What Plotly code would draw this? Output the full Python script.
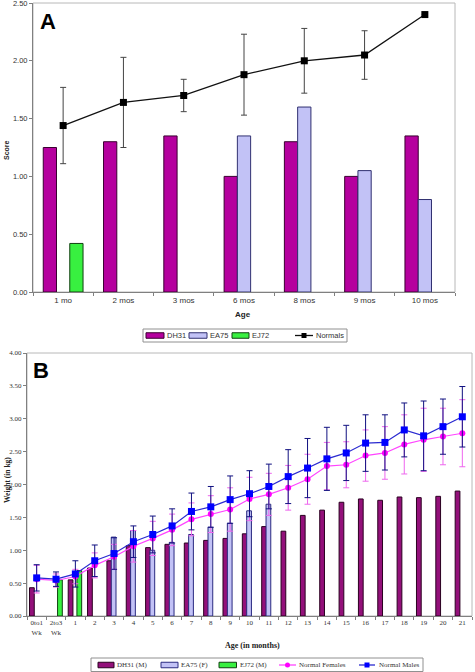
import plotly.graph_objects as go

# ---------------- Panel A data ----------------
cats_a = ["1 mo", "2 mos", "3 mos", "6 mos", "8 mos", "9 mos", "10 mos"]
dh31_a = [1.25, 1.30, 1.35, 1.00, 1.30, 1.00, 1.35]
ea75_a = [None, None, None, 1.35, 1.60, 1.05, 0.80]
ej72_a = [0.42, None, None, None, None, None, None]
normals_a = [1.44, 1.64, 1.70, 1.88, 2.00, 2.05, 2.40]
normals_a_err = [0.33, 0.39, 0.14, 0.35, 0.28, 0.21, 0.0]
ticks_a = [0, 0.5, 1.0, 1.5, 2.0, 2.5]

# ---------------- Panel B data ----------------
cats_b = ["0to1<br>Wk", "2to3<br>Wk"] + [str(i) for i in range(1, 22)]
dh31_b = [0.43, None, 0.55, 0.73, 0.84, 1.07, 1.04, 1.09, 1.11, 1.15, 1.18, 1.25,
          1.36, 1.29, 1.53, 1.61, 1.73, 1.78, 1.76, 1.81, 1.80, 1.82, 1.90]
ea75_b = [None, None, None, None, 1.20, 1.30, 1.00, 1.12, 1.24, 1.35, 1.41, 1.60,
          1.70, None, None, None, None, None, None, None, None, None, None]
ej72_b = [None, 0.55, 0.69] + [None] * 20
males_b = [0.58, 0.56, 0.64, 0.84, 0.95, 1.13, 1.24, 1.37, 1.59, 1.66, 1.77, 1.86,
           1.97, 2.12, 2.25, 2.39, 2.48, 2.63, 2.64, 2.83, 2.74, 2.88, 3.03]
males_b_err = [0.20, 0.11, 0.20, 0.24, 0.24, 0.24, 0.28, 0.26, 0.28, 0.31, 0.36, 0.35,
               0.34, 0.41, 0.45, 0.48, 0.42, 0.43, 0.42, 0.41, 0.53, 0.42, 0.46]
females_b = [0.56, 0.54, 0.60, 0.77, 0.90, 1.06, 1.18, 1.31, 1.47, 1.55, 1.62, 1.78,
             1.85, 1.95, 2.08, 2.28, 2.30, 2.44, 2.48, 2.61, 2.68, 2.73, 2.78]
females_b_err = [0.21, 0.10, 0.11, 0.19, 0.19, 0.24, 0.26, 0.24, 0.25, 0.28, 0.33, 0.33,
                 0.32, 0.34, 0.38, 0.36, 0.35, 0.39, 0.40, 0.45, 0.48, 0.43, 0.51]
ticks_b = [0, 0.5, 1.0, 1.5, 2.0, 2.5, 3.0, 3.5, 4.0]

W, H = 475, 672
SANS = "Liberation Sans, Arial, sans-serif"
SERIF = "Liberation Serif, Times New Roman, serif"

# colours
C_DH31_A, C_DH31_B = "#b5009e", "#93107a"
C_EA75 = "#c2c2f6"
C_EJ72 = "#38f040"

fig = go.Figure()

# ---- Panel A traces ----
wa = 0.22
fig.add_trace(go.Bar(x=cats_a, y=dh31_a, name="DH31", width=wa, offset=-0.33,
                     marker=dict(color=C_DH31_A, line=dict(color="#3a0030", width=1)),
                     xaxis="x", yaxis="y"))
fig.add_trace(go.Bar(x=cats_a, y=ea75_a, name="EA75", width=wa, offset=-0.11,
                     marker=dict(color=C_EA75, line=dict(color="#303070", width=1)),
                     xaxis="x", yaxis="y"))
fig.add_trace(go.Bar(x=cats_a, y=ej72_a, name="EJ72", width=wa, offset=0.11,
                     marker=dict(color=C_EJ72, line=dict(color="#104010", width=1)),
                     xaxis="x", yaxis="y"))
fig.add_trace(go.Scatter(x=cats_a, y=normals_a, name="Normals", mode="lines+markers",
                         line=dict(color="#111111", width=1.3),
                         marker=dict(symbol="square", size=7, color="#000000"),
                         error_y=dict(type="data", array=normals_a_err, color="#444444",
                                      thickness=1, width=3),
                         xaxis="x", yaxis="y"))

# ---- Panel B traces ----
wb = 0.245
fig.add_trace(go.Bar(x=cats_b, y=dh31_b, name="DH31 (M)", width=wb, offset=-0.37,
                     marker=dict(color=C_DH31_B, line=dict(color="#2a0020", width=1)),
                     xaxis="x2", yaxis="y2"))
fig.add_trace(go.Bar(x=cats_b, y=ea75_b, name="EA75 (F)", width=wb, offset=-0.145,
                     marker=dict(color=C_EA75, line=dict(color="#2a2a80", width=1)),
                     xaxis="x2", yaxis="y2"))
fig.add_trace(go.Bar(x=cats_b, y=ej72_b, name="EJ72 (M)", width=wb, offset=0.08,
                     marker=dict(color=C_EJ72, line=dict(color="#104010", width=1)),
                     xaxis="x2", yaxis="y2"))
fig.add_trace(go.Scatter(x=cats_b, y=females_b, name="Normal Females", mode="lines+markers",
                         line=dict(color="#ff44ff", width=1.2),
                         marker=dict(symbol="circle", size=6, color="#ff00ff"),
                         error_y=dict(type="data", array=females_b_err, color="#ee66ee",
                                      thickness=1, width=3),
                         xaxis="x2", yaxis="y2"))
fig.add_trace(go.Scatter(x=cats_b, y=males_b, name="Normal Males", mode="lines+markers",
                         line=dict(color="#2a2ad0", width=1.2),
                         marker=dict(symbol="square", size=7, color="#0000ff"),
                         error_y=dict(type="data", array=males_b_err, color="#101080",
                                      thickness=1, width=3),
                         xaxis="x2", yaxis="y2"))

# domains (pixel-derived)
ax_l, ax_r, ay_t, ay_b = 33, 455, 3, 292
bx_l, bx_r, by_t, by_b = 27, 472, 353, 616

common_axis = dict(showline=True, linecolor="#808080", linewidth=1, showgrid=False,
                   ticks="outside", ticklen=3, tickcolor="#808080", automargin=False,
                   ticklabeloverflow="allow")

fig.update_layout(
    width=W, height=H,
    margin=dict(l=0, r=0, t=0, b=0, autoexpand=False),
    paper_bgcolor="white", plot_bgcolor="white",
    barmode="overlay", showlegend=False,
    xaxis=dict(domain=[ax_l / W, ax_r / W], anchor="y", type="category",
               categoryorder="array", categoryarray=cats_a, tickangle=0,
               range=[-0.5, 6.5], tickson="boundaries",
               tickfont=dict(family=SANS, size=8, color="#333333"), **common_axis),
    yaxis=dict(domain=[1 - ay_b / H, 1 - ay_t / H], anchor="x", range=[0, 2.5],
               tickvals=ticks_a, tickformat=".2f", zeroline=False,
               tickfont=dict(family=SANS, size=7.5, color="#333333"), **common_axis),
    xaxis2=dict(domain=[bx_l / W, bx_r / W], anchor="y2", type="category",
                categoryorder="array", categoryarray=cats_b, tickangle=0,
                range=[-0.5, 22.5], tickson="boundaries",
                tickfont=dict(family=SERIF, size=7, color="#333333"), **common_axis),
    yaxis2=dict(domain=[1 - by_b / H, 1 - by_t / H], anchor="x2", range=[0, 4.0],
                tickvals=ticks_b, tickformat=".2f", zeroline=False,
                tickfont=dict(family=SERIF, size=7, color="#333333"), **common_axis),
)

def px(x):
    return x / W

def py(y):
    return 1 - y / H

# plot-area borders
for (l, r, t, b) in [(ax_l, ax_r, ay_t, ay_b), (bx_l, bx_r, by_t, by_b)]:
    fig.add_shape(type="rect", xref="paper", yref="paper",
                  x0=px(l), x1=px(r), y0=py(b), y1=py(t),
                  line=dict(color="#b8b8b8", width=1), layer="below")

ann = [
    dict(text="<b>A</b>", x=px(48), y=py(21), font=dict(family=SANS, size=22, color="black")),
    dict(text="<b>B</b>", x=px(41), y=py(370), font=dict(family=SANS, size=22, color="black")),
    dict(text="<b>Score</b>", x=px(6), y=py(150), textangle=-90,
         font=dict(family=SANS, size=7, color="#222222")),
    dict(text="<b>Age</b>", x=px(243), y=py(314), font=dict(family=SANS, size=8, color="#222222")),
    dict(text="<b>Weight (in kg)</b>", x=px(7), y=py(480), textangle=-90,
         font=dict(family=SERIF, size=7.5, color="#222222")),
    dict(text="<b>Age (in months)</b>", x=px(252), y=py(645),
         font=dict(family=SERIF, size=8, color="#222222")),
]
for a in ann:
    fig.add_annotation(xref="paper", yref="paper", showarrow=False,
                       xanchor="center", yanchor="middle", **a)

# ---------------- custom legends (Excel style) ----------------
def legend_box(x0, x1, y0, y1):
    fig.add_shape(type="rect", xref="paper", yref="paper", x0=px(x0), x1=px(x1),
                  y0=py(y1), y1=py(y0), line=dict(color="#909090", width=1),
                  fillcolor="white")

def swatch(x0, x1, yc, h, color, edge):
    fig.add_shape(type="rect", xref="paper", yref="paper", x0=px(x0), x1=px(x1),
                  y0=py(yc + h / 2), y1=py(yc - h / 2), fillcolor=color,
                  line=dict(color=edge, width=1))

def line_entry(x0, x1, yc, color, msize, symbol_circle, lcolor):
    fig.add_shape(type="line", xref="paper", yref="paper", x0=px(x0), x1=px(x1),
                  y0=py(yc), y1=py(yc), line=dict(color=lcolor, width=1.3))
    xc = (x0 + x1) / 2
    fig.add_shape(type="circle" if symbol_circle else "rect", xref="paper", yref="paper",
                  x0=px(xc - msize / 2), x1=px(xc + msize / 2),
                  y0=py(yc + msize / 2), y1=py(yc - msize / 2),
                  fillcolor=color, line=dict(color=color, width=0))

def label(x, yc, text, family, size):
    fig.add_annotation(xref="paper", yref="paper", showarrow=False, x=px(x), y=py(yc),
                       xanchor="left", yanchor="middle", text=text,
                       font=dict(family=family, size=size, color="#333333"))

# Legend A
ya = 335.5
legend_box(143, 347, 329, 342)
swatch(146, 164, ya, 5.5, C_DH31_A, "#3a0030")
label(165, ya, "DH31", SANS, 7.5)
swatch(189, 207, ya, 5.5, C_EA75, "#303070")
label(208, ya, "EA75", SANS, 7.5)
swatch(232, 249, ya, 5.5, C_EJ72, "#104010")
label(250, ya, "EJ72", SANS, 7.5)
line_entry(295, 313, ya, "#000000", 5, False, "#111111")
label(314, ya, "Normals", SANS, 7.5)

# Legend B
yb = 665
legend_box(91, 423, 658, 671.5)
swatch(98, 114, yb, 5.5, C_DH31_B, "#2a0020")
label(115, yb, "DH31 (M)", SERIF, 7)
swatch(161, 178, yb, 5.5, C_EA75, "#2a2a80")
label(179, yb, "EA75 (F)", SERIF, 7)
swatch(219, 236.5, yb, 5.5, C_EJ72, "#104010")
label(237.5, yb, "EJ72 (M)", SERIF, 7)
line_entry(279, 296, yb, "#ff00ff", 5, True, "#ff44ff")
label(297, yb, "Normal Females", SERIF, 7)
line_entry(359, 375, yb, "#0000ff", 5, False, "#2a2ad0")
label(376.5, yb, "Normal Males", SERIF, 7)

fig.write_html("out.html", config={"displayModeBar": False},
               post_script="document.body.style.margin='0';")
